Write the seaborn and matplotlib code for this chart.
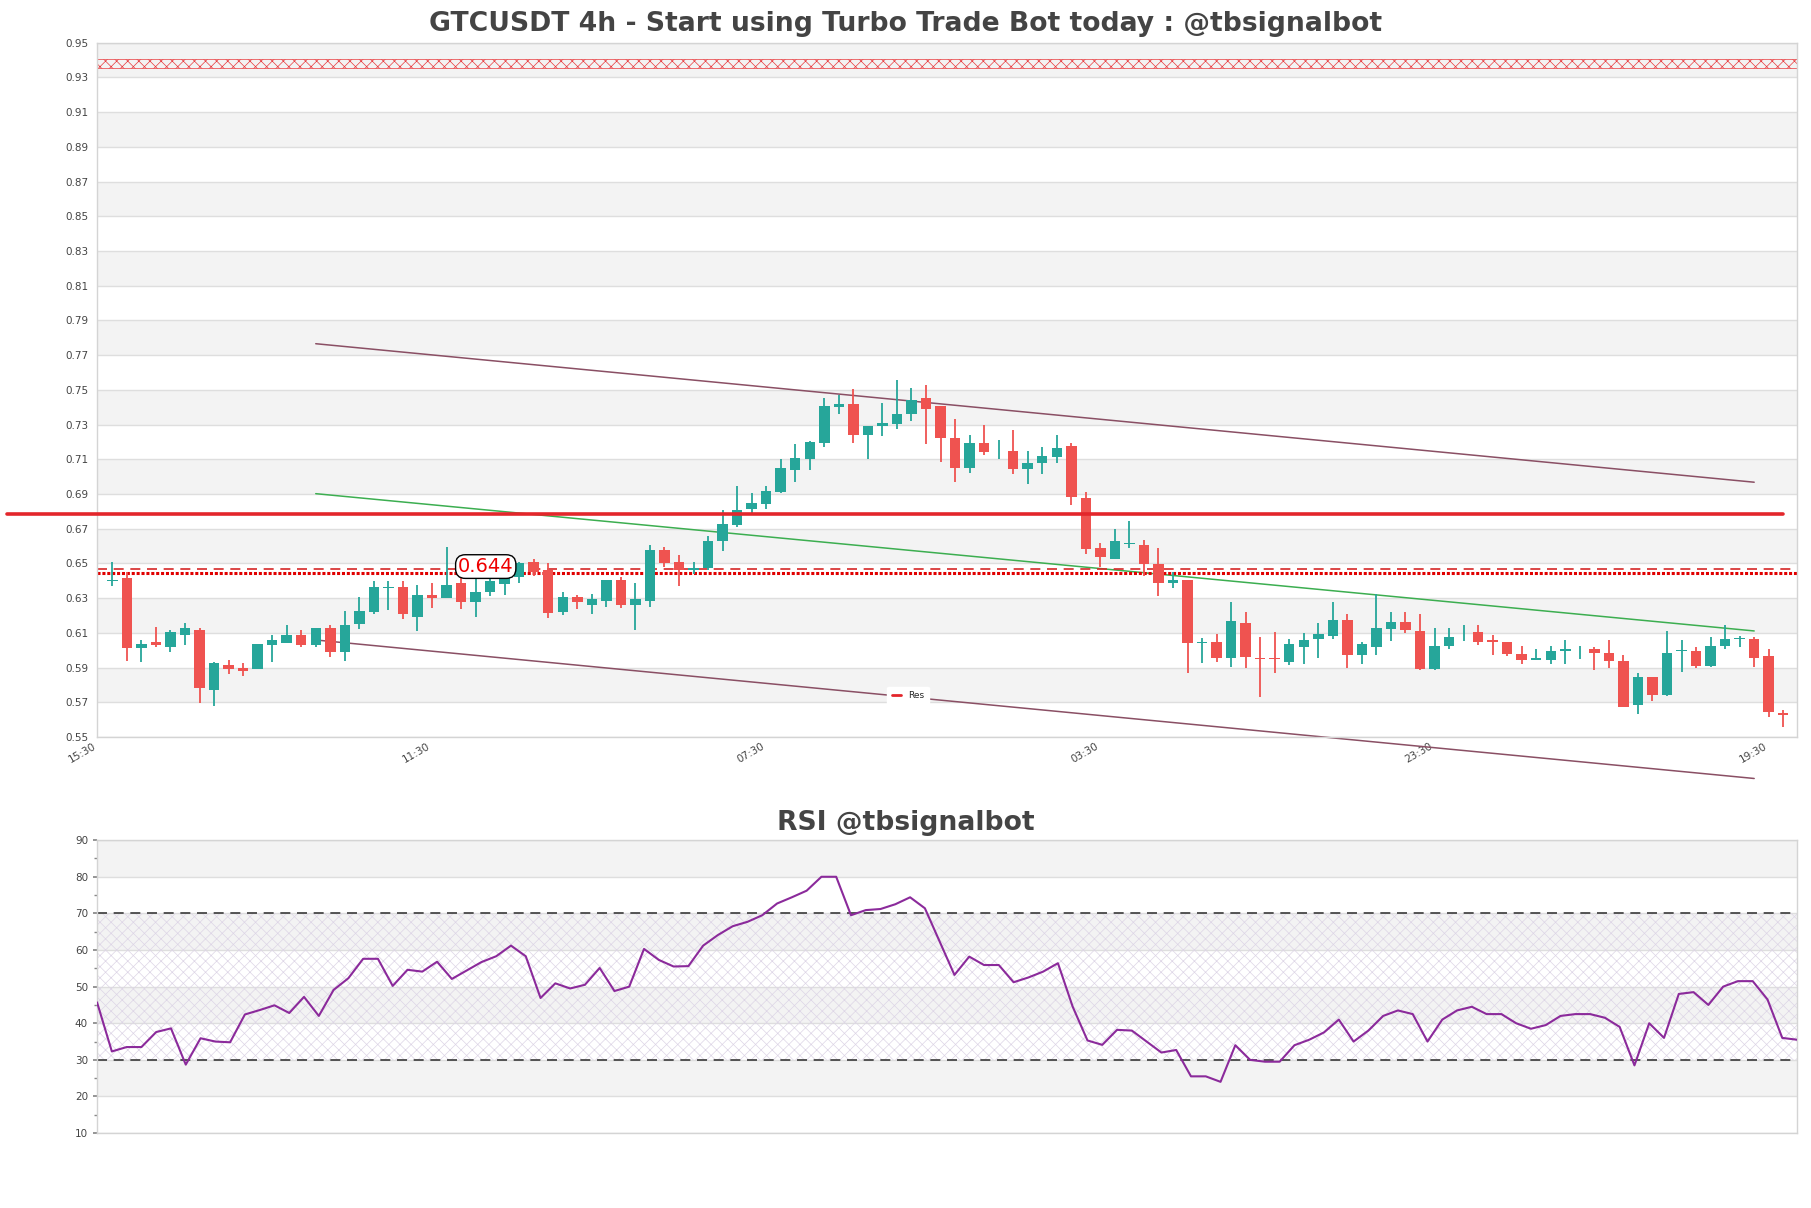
import numpy as np
import pandas as pd
import matplotlib
matplotlib.use("Agg")
import matplotlib.pyplot as plt
from matplotlib.ticker import MultipleLocator, FormatStrFormatter
import seaborn as sns

# ---------------- data ----------------
opens = [0.6400, 0.6414, 0.6014, 0.6047, 0.6020, 0.6089, 0.6116, 0.5771, 0.5915, 0.5899,
         0.5893, 0.6030, 0.6043, 0.6085, 0.6030, 0.6128, 0.5991, 0.6153, 0.6222, 0.6360,
         0.6362, 0.6193, 0.6318, 0.6302, 0.6385, 0.6275, 0.6335, 0.6383, 0.6423, 0.6506,
         0.6465, 0.6221, 0.6304, 0.6260, 0.6285, 0.6404, 0.6260, 0.6285, 0.6577, 0.6506,
         0.6465, 0.6475, 0.6630, 0.6724, 0.6814, 0.6845, 0.6912, 0.7037, 0.7102, 0.7194,
         0.7402, 0.7417, 0.7242, 0.7294, 0.7305, 0.7363, 0.7455, 0.7405, 0.7225, 0.7051,
         0.7196, 0.7145, 0.7147, 0.7047, 0.7076, 0.7114, 0.7175, 0.6876, 0.6589, 0.6523,
         0.6613, 0.6606, 0.6497, 0.6386, 0.6405, 0.6044, 0.6048, 0.5954, 0.6159, 0.5956,
         0.5955, 0.5935, 0.6021, 0.6063, 0.6083, 0.6174, 0.5973, 0.6021, 0.6124, 0.6160,
         0.6108, 0.5892, 0.6022, 0.6085, 0.6106, 0.6060, 0.6049, 0.5978, 0.5941, 0.5941,
         0.5993, 0.6005, 0.6009, 0.5984, 0.5940, 0.5683, 0.5845, 0.5744, 0.5995, 0.5997,
         0.5911, 0.6022, 0.6066, 0.6066, 0.5968, 0.5638]
highs = [0.6506, 0.6452, 0.6059, 0.6131, 0.6116, 0.6155, 0.6126, 0.5934, 0.5943, 0.5924,
         0.6036, 0.6087, 0.6145, 0.6116, 0.6128, 0.6145, 0.6226, 0.6308, 0.6398, 0.6398,
         0.6398, 0.6375, 0.6385, 0.6596, 0.6418, 0.6423, 0.6433, 0.6437, 0.6506, 0.6523,
         0.6503, 0.6337, 0.6317, 0.6323, 0.6404, 0.6423, 0.6385, 0.6605, 0.6592, 0.6548,
         0.6506, 0.6657, 0.6807, 0.6945, 0.6903, 0.6945, 0.7104, 0.7186, 0.7204, 0.7455,
         0.7468, 0.7507, 0.7294, 0.7426, 0.7555, 0.7513, 0.7526, 0.7405, 0.7334, 0.7239,
         0.7296, 0.7214, 0.7267, 0.7147, 0.7172, 0.7239, 0.7196, 0.6913, 0.6615, 0.6696,
         0.6744, 0.6635, 0.6587, 0.6452, 0.6405, 0.6069, 0.6092, 0.6280, 0.6219, 0.6075,
         0.6107, 0.6063, 0.6098, 0.6159, 0.6280, 0.6207, 0.6046, 0.6322, 0.6218, 0.6218,
         0.6210, 0.6127, 0.6127, 0.6147, 0.6147, 0.6089, 0.6049, 0.6026, 0.6009, 0.6026,
         0.6060, 0.6026, 0.6018, 0.6060, 0.5974, 0.5869, 0.5845, 0.6108, 0.6060, 0.6018,
         0.6076, 0.6147, 0.6080, 0.6076, 0.6007, 0.5654]
lows = [0.6371, 0.5940, 0.5934, 0.6020, 0.5991, 0.6030, 0.5694, 0.5680, 0.5863, 0.5853,
        0.5893, 0.5934, 0.6043, 0.6016, 0.6016, 0.5963, 0.5940, 0.6124, 0.6208, 0.6231,
        0.6179, 0.6112, 0.6243, 0.6300, 0.6235, 0.6193, 0.6312, 0.6316, 0.6387, 0.6427,
        0.6183, 0.6202, 0.6235, 0.6208, 0.6247, 0.6241, 0.6116, 0.6247, 0.6477, 0.6372,
        0.6442, 0.6462, 0.6571, 0.6711, 0.6788, 0.6814, 0.6903, 0.6970, 0.7037, 0.7171,
        0.7363, 0.7194, 0.7104, 0.7233, 0.7277, 0.7321, 0.7186, 0.7085, 0.6970, 0.7022,
        0.7124, 0.7104, 0.7014, 0.6955, 0.7014, 0.7076, 0.6834, 0.6554, 0.6481, 0.6523,
        0.6587, 0.6427, 0.6315, 0.6357, 0.5871, 0.5925, 0.5935, 0.5902, 0.5900, 0.5733,
        0.5871, 0.5912, 0.5921, 0.5956, 0.6063, 0.5896, 0.5921, 0.5973, 0.6056, 0.6102,
        0.5884, 0.5884, 0.6007, 0.6056, 0.6032, 0.5974, 0.5964, 0.5922, 0.5941, 0.5922,
        0.5922, 0.5951, 0.5884, 0.5897, 0.5671, 0.5635, 0.5706, 0.5734, 0.5872, 0.5897,
        0.5903, 0.6007, 0.6018, 0.5903, 0.5615, 0.5558]
closes = [0.6406, 0.6014, 0.6034, 0.6030, 0.6107, 0.6128, 0.5784, 0.5924, 0.5893, 0.5882,
          0.6036, 0.6059, 0.6085, 0.6032, 0.6128, 0.5991, 0.6145, 0.6226, 0.6362, 0.6365,
          0.6206, 0.6316, 0.6302, 0.6375, 0.6277, 0.6335, 0.6398, 0.6432, 0.6505, 0.6452,
          0.6212, 0.6304, 0.6275, 0.6295, 0.6404, 0.6260, 0.6295, 0.6577, 0.6504, 0.6465,
          0.6475, 0.6628, 0.6726, 0.6807, 0.6847, 0.6916, 0.7048, 0.7106, 0.7198, 0.7405,
          0.7417, 0.7242, 0.7294, 0.7309, 0.7363, 0.7443, 0.7388, 0.7223, 0.7050, 0.7196,
          0.7143, 0.7148, 0.7047, 0.7080, 0.7118, 0.7164, 0.6884, 0.6585, 0.6535, 0.6629,
          0.6617, 0.6495, 0.6386, 0.6405, 0.6044, 0.6047, 0.5954, 0.6169, 0.5963, 0.5950,
          0.5950, 0.6034, 0.6059, 0.6094, 0.6174, 0.5973, 0.6036, 0.6126, 0.6160, 0.6114,
          0.5892, 0.6026, 0.6076, 0.6090, 0.6045, 0.6045, 0.5978, 0.5941, 0.5955, 0.5997,
          0.6009, 0.6008, 0.5984, 0.5936, 0.5671, 0.5845, 0.5744, 0.5984, 0.5999, 0.5911,
          0.6026, 0.6066, 0.6069, 0.5953, 0.5642, 0.5627]

rsi = [45.7, 32.3, 33.5, 33.5, 37.6, 38.6, 28.7, 35.9, 35.0, 34.8,
       42.4, 43.6, 44.9, 42.8, 47.2, 42.0, 49.1, 52.3, 57.6, 57.6,
       50.2, 54.6, 54.1, 56.8, 52.1, 54.4, 56.7, 58.3, 61.2, 58.3,
       46.9, 50.9, 49.5, 50.5, 55.1, 48.8, 50.0, 60.3, 57.3, 55.5,
       55.6, 61.2, 64.1, 66.5, 67.7, 69.5, 72.7, 74.4, 76.2, 80.0,
       80.0, 69.5, 70.9, 71.2, 72.5, 74.4, 71.4, 62.3, 53.2, 58.2,
       55.9, 55.9, 51.2, 52.5, 54.1, 56.4, 44.5, 35.3, 34.1, 38.2,
       38.0, 35.0, 32.0, 32.7, 25.5, 25.5, 24.0, 34.0, 30.0, 29.5,
       29.5, 34.0, 35.5, 37.5, 41.0, 35.0, 38.0, 42.0, 43.5, 42.5,
       35.0, 41.0, 43.5, 44.5, 42.5, 42.5, 40.0, 38.5, 39.5, 42.0,
       42.5, 42.5, 41.5, 39.0, 28.5, 40.0, 36.0, 48.0, 48.5, 45.0,
       50.0, 51.5, 51.5, 46.5, 36.0, 35.5]

tick_pos = [-1, 22, 45, 68, 91, 114]
tick_labels = ["15:30", "11:30", "07:30", "03:30", "23:30", "19:30"]

trend_x = [14, 113]
upper_trend = [0.7766, 0.6968]
lower_trend = [0.6059, 0.5261]
mid_trend = [0.6902, 0.6111]

res_x = [-7.25, 115]
res_level = 0.6784
sup_dashed = 0.6466
sup_dotted = 0.6444
top_zone = (0.9355, 0.9405)
price_label = "0.644"
price_label_pos = (25.7, 0.6482)

title = "GTCUSDT 4h - Start using Turbo Trade Bot today : @tbsignalbot"
rsi_title = "RSI @tbsignalbot"

# ---------------- style ----------------
sns.set_theme(style="white")
plt.rcParams["font.family"] = ["DejaVu Sans"]
plt.rcParams["hatch.linewidth"] = 0.5

UP = "#26a69a"
DOWN = "#ef5350"
GRID = "#dedede"
BAND = "#f3f3f3"
TXT = "#444444"

fig = plt.figure(figsize=(18.11, 12.08), dpi=100)
ax = fig.add_axes([0.0536, 0.3899, 0.9387, 0.5747])
ax2 = fig.add_axes([0.0536, 0.062, 0.9387, 0.2425])

df = pd.DataFrame({"o": opens, "h": highs, "l": lows, "c": closes})
df["x"] = np.arange(len(df))
up = df["c"] >= df["o"]
cols = np.where(up, UP, DOWN)

# bands
for y0 in np.arange(0.57, 0.95, 0.04):
    ax.axhspan(y0, y0 + 0.02, color=BAND, zorder=0, lw=0)
ax.set_ylim(0.55, 0.95)
ax.set_xlim(-1.05, 115.95)
ax.set_yticks(np.round(np.arange(0.55, 0.951, 0.02), 2))
ax.yaxis.set_major_formatter(FormatStrFormatter("%.2f"))
ax.yaxis.grid(True, color=GRID, lw=1)
ax.xaxis.grid(False)
ax.set_axisbelow(True)

# top hatched zone
ax.axhspan(top_zone[0], top_zone[1], facecolor="none", edgecolor="#e8393c",
           hatch="xxx", lw=0.5, zorder=1)

# candles
ax.vlines(df["x"], df["l"], df["h"], colors=cols, lw=1.3, zorder=3)
body_bottom = np.minimum(df["o"], df["c"])
body_h = np.maximum(np.abs(df["c"] - df["o"]), 0.0004)
ax.bar(df["x"], body_h, bottom=body_bottom, width=0.72, color=cols, zorder=4, lw=0)

# trend lines
ax.plot(trend_x, upper_trend, color="#8a4f64", lw=1.1, zorder=2, clip_on=False)
ax.plot(trend_x, lower_trend, color="#8a4f64", lw=1.1, zorder=2, clip_on=False)
ax.plot(trend_x, mid_trend, color="#3cae50", lw=1.1, zorder=2, clip_on=False)

# support/resistance
ax.axhline(sup_dashed, color="#d62728", lw=1.2, ls=(0, (6, 4)), zorder=2)
ax.axhline(sup_dotted, color="#e00000", lw=2.2, ls=(0, (1, 0.6)), zorder=2)
ax.plot(res_x, [res_level, res_level], color="#e3262b", lw=2.6, zorder=5,
        clip_on=False, label="Res")

ax.text(price_label_pos[0], price_label_pos[1], price_label, color="#ee0000",
        fontsize=14, ha="center", va="center", zorder=6,
        bbox=dict(boxstyle="round,pad=0.12,rounding_size=0.5", fc="white", ec="black", lw=1))

leg = ax.legend(loc="lower center", bbox_to_anchor=(0.477, 0.04), fontsize=6.5,
                frameon=True, facecolor="white", edgecolor="white", framealpha=1,
                handlelength=1.0, borderpad=0.5)
for h in leg.get_lines():
    h.set_linewidth(2)

ax.set_xticks(tick_pos)
ax.set_xticklabels(tick_labels, rotation=30, ha="right", fontsize=7.5, color=TXT)
ax.tick_params(axis="y", labelsize=7.5, labelcolor=TXT, length=0, pad=6)
ax.tick_params(axis="x", length=0, pad=3)
for s in ax.spines.values():
    s.set_color("#d4d4d4")
    s.set_linewidth(1)

# ---------------- RSI ----------------
for y0 in [20, 40, 60, 80]:
    ax2.axhspan(y0, y0 + 10, color=BAND, zorder=0, lw=0)
ax2.fill_between([0, len(rsi) - 1], 30, 70, facecolor="none", edgecolor="#ddd5e6",
                 hatch="xxx", lw=0, zorder=1)
ax2.axhline(70, color="#3a3a3a", lw=1.2, ls=(0, (6, 4)), zorder=2)
ax2.axhline(30, color="#3a3a3a", lw=1.2, ls=(0, (6, 4)), zorder=2)
rsi_df = pd.DataFrame({"i": np.arange(len(rsi)), "rsi": rsi})
sns.lineplot(data=rsi_df, x="i", y="rsi", ax=ax2, color="#8b2a9b", lw=1.5, zorder=3)
ax2.set_xlim(0, len(rsi) - 1)
ax2.set_ylim(10, 90)
ax2.set_yticks(range(10, 91, 10))
ax2.yaxis.set_minor_locator(MultipleLocator(5))
ax2.yaxis.grid(True, color=GRID, lw=1)
ax2.set_axisbelow(True)
ax2.set_xticks([])
ax2.set_xlabel("")
ax2.set_ylabel("")
ax2.tick_params(axis="y", which="major", labelsize=7.5, labelcolor=TXT, length=3,
                color="#888888", left=True)
ax2.tick_params(axis="y", which="minor", length=2, color="#888888", left=True)
for s in ax2.spines.values():
    s.set_color("#d4d4d4")
    s.set_linewidth(1)

fig.text(0.5, 0.980, title, ha="center", va="center", fontsize=19.2,
         fontweight="bold", color=TXT)
fig.text(0.5, 0.319, rsi_title, ha="center", va="center", fontsize=19.2,
         fontweight="bold", color=TXT)

fig.savefig("out.png", dpi=100, facecolor="white")
